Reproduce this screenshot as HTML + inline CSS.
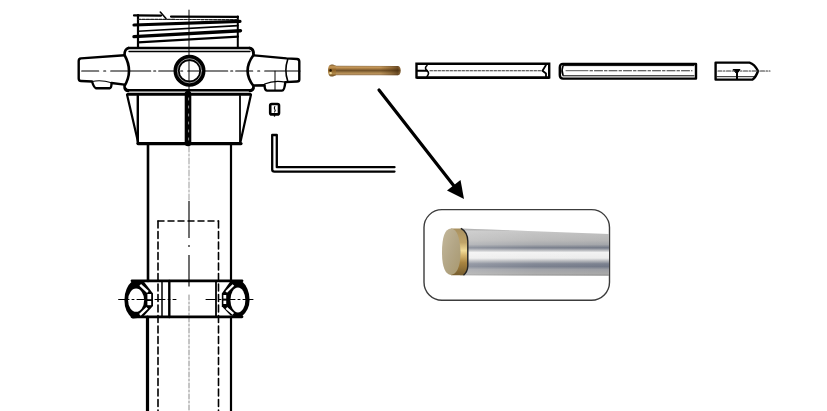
<!DOCTYPE html>
<html><head><meta charset="utf-8">
<style>
html,body{margin:0;padding:0;background:#fff;width:827px;height:411px;overflow:hidden;font-family:"Liberation Sans",sans-serif;}
svg{display:block;position:absolute;left:0;top:0;}
</style></head><body>
<svg width="827" height="411" viewBox="0 0 827 411">
<defs>
  <linearGradient id="steel" x1="0" y1="0" x2="0" y2="1">
    <stop offset="0" stop-color="#9a9a9a"/>
    <stop offset="0.12" stop-color="#c4c4c4"/>
    <stop offset="0.30" stop-color="#b8bac0"/>
    <stop offset="0.40" stop-color="#7d838e"/>
    <stop offset="0.52" stop-color="#f4f4f4"/>
    <stop offset="0.62" stop-color="#d8d8d8"/>
    <stop offset="0.75" stop-color="#b0b2b8"/>
    <stop offset="0.84" stop-color="#6a707c"/>
    <stop offset="0.93" stop-color="#a8a8a8"/>
    <stop offset="1" stop-color="#8a8a8a"/>
  </linearGradient>
  <linearGradient id="brass" x1="0" y1="0" x2="0" y2="1">
    <stop offset="0" stop-color="#7a5a20"/>
    <stop offset="0.3" stop-color="#c8a060"/>
    <stop offset="0.5" stop-color="#a07830"/>
    <stop offset="0.8" stop-color="#b89050"/>
    <stop offset="1" stop-color="#6a4a18"/>
  </linearGradient>
</defs>
<g fill="none" stroke="#000" stroke-linecap="round" stroke-linejoin="round">
  <!-- centerline of post -->
  <path d="M189 10 L189 95" stroke-width="1.2" stroke="#333"/>
  <path d="M189 146 L189 201" stroke-width="1" stroke="#999" stroke-dasharray="6 2 2 2"/>
  <path d="M189 201 L189 238 M189 245 L189 247 M189 255 L189 286.5" stroke-width="1.3" stroke="#222" stroke-linecap="butt"/>
  <path d="M189 295 L189 411" stroke-width="1" stroke="#8a8a8a" stroke-dasharray="5 2 2 2"/>

  <!-- threads -->
  <path d="M134 15.4 L161 15.6" stroke-width="2.2"/>
  <path d="M160.3 12 L166 18.6" stroke-width="1.6"/>
  <path d="M171 16.6 L238 16.8" stroke-width="2.2"/>
  <line x1="138" y1="15" x2="138" y2="48" stroke-width="2.2"/>
  <line x1="237.8" y1="16.5" x2="237.8" y2="47.5" stroke-width="2"/>
  <line x1="138" y1="19.4" x2="238" y2="19.6" stroke-width="1.2" stroke="#222" stroke-dasharray="3 1.2"/>
  <line x1="134" y1="25" x2="240" y2="21.4" stroke-width="3.2"/>
  <line x1="138" y1="31.3" x2="238" y2="25.6" stroke-width="1.6"/>
  <line x1="134" y1="36.6" x2="240.5" y2="30.7" stroke-width="3.4"/>
  <line x1="138" y1="42.4" x2="238" y2="36.6" stroke-width="2.2"/>

  <!-- body -->
  <path d="M128.5 48 L250 48 Q253.5 48.5 253.5 53" stroke-width="2.6"/>
  <line x1="129" y1="51.5" x2="250" y2="51.5" stroke-width="1.4"/>
  <path d="M125 88 Q126 90.3 129 90.3 L250 90.3 Q253 90.3 253.5 88" stroke-width="2.5"/>
  
  <path d="M128.5 48 Q124.5 49 124.5 55 Q133.5 71 124.5 86 Q124.5 90.5 128 91" stroke-width="2.6"/>
  <path d="M249.5 48 Q253.5 49 253.5 55 Q241.7 71 253.5 86 Q253.5 90.5 250 91" stroke-width="2.6"/>

  <!-- left arm -->
  <path d="M124.5 55.3 L81 58.4 Q78.7 58.6 78.7 61 L78.7 78.5 Q78.7 81 81 81 L92 81.5 Q94 87.8 96 88.2 L109.7 88.2 Q111.5 88 111.5 83 L124.5 84.6" stroke-width="2.4"/>
  <path d="M92 81.5 Q101 79.5 111.5 82.7" stroke-width="1.2"/>
  <!-- right arm -->
  <path d="M253.5 55.3 L286.5 58.4 L297 59 Q299.3 59.2 299.3 61.5 L299.3 79.5 Q299.3 81.5 297 81.5 L285.3 82.1 Q284.5 90.6 282 90.6 L267 90.6 Q264.6 90.4 264.6 85.3 L253.5 85.5" stroke-width="2.4"/>
  <path d="M287.7 59.6 Q284 70.5 287.7 81" stroke-width="1.6"/>
  <path d="M264.6 84 Q274 80 285.3 82.1" stroke-width="1.2"/>
  <line x1="275" y1="71.2" x2="275" y2="90" stroke-width="1"/>
  <!-- centerline horizontal -->
  <line x1="81.7" y1="71" x2="300" y2="71" stroke-width="1.1" stroke-dasharray="17 5 2 5 40 3 2 3"/>

  <!-- hole -->
  <circle cx="189.5" cy="70.8" r="12.9" stroke-width="6.2"/>
  <circle cx="189.5" cy="70.8" r="12.1" stroke-width="0.8" stroke="#bbb"/>

  <!-- lower nut -->
  <line x1="127" y1="94.5" x2="138.5" y2="144" stroke-width="2.2"/>
  <line x1="251" y1="94.5" x2="240" y2="144" stroke-width="2.2"/>
  <line x1="128" y1="94.3" x2="250" y2="94.3" stroke-width="3"/>
  <line x1="137.8" y1="96" x2="137.8" y2="143" stroke-width="2.4"/>
  <line x1="240" y1="96" x2="240" y2="143" stroke-width="1.8"/>
  <line x1="188" y1="94" x2="188" y2="143" stroke-width="6.6"/>
  <line x1="188.6" y1="98" x2="188.6" y2="140" stroke="#fff" stroke-width="0.8" stroke-dasharray="2 6" opacity="0.7"/>
  <line x1="138" y1="143.6" x2="241" y2="143.6" stroke-width="3.2"/>

  <!-- tube -->
  <line x1="148" y1="144" x2="148" y2="281" stroke-width="2.6"/>
  <line x1="231" y1="144" x2="231" y2="281" stroke-width="2.2"/>
  <line x1="147.5" y1="317" x2="147.5" y2="411" stroke-width="3.2"/>
  <line x1="231" y1="317" x2="231" y2="411" stroke-width="2.2"/>
  <!-- dashed inner -->
  <line x1="158" y1="221" x2="218.5" y2="221" stroke-width="1.5" stroke-dasharray="6 4"/>
  <line x1="158" y1="221" x2="158" y2="411" stroke-width="1.6" stroke-dasharray="7 3.5"/>
  <line x1="218.5" y1="221" x2="218.5" y2="411" stroke-width="1.6" stroke-dasharray="7 3.5"/>

  <!-- collar -->
  <line x1="132" y1="280.8" x2="242" y2="280.8" stroke-width="2.8"/>
  <line x1="132" y1="316.8" x2="242" y2="316.8" stroke-width="2.8"/>
  <line x1="162" y1="281" x2="162" y2="317" stroke-width="1.5"/>
  <line x1="169.3" y1="281" x2="169.3" y2="317" stroke-width="2.4"/>
  <line x1="216" y1="281" x2="216" y2="317" stroke-width="1.8"/>
  <line x1="119" y1="299.5" x2="176" y2="299.5" stroke-width="1" stroke-dasharray="10 3 2 3"/>
  <line x1="206" y1="299.5" x2="255" y2="299.5" stroke-width="1" stroke-dasharray="10 3 2 3"/>
  <!-- left nut -->
  <path d="M132.7 280.5 L143.4 281 L153 293.6 L153 306 L142.4 317.5 L132.7 318.5 Q124.4 312 124.4 300 Q124.4 288 132.7 280.5 Z" fill="#000" stroke="none"/>
  <ellipse cx="136.1" cy="300.2" rx="8" ry="11.6" fill="#fff" stroke="none"/>
  <path d="M140.2 284.8 L147.9 292 M139.9 314.8 L147.2 307.8" stroke="#fff" stroke-width="2.4" stroke-linecap="butt"/>
  <rect x="147.4" y="294" width="3.8" height="5.2" fill="#fff" stroke="none"/>
  <rect x="147.4" y="301" width="3.8" height="4.2" fill="#fff" stroke="none"/>
  <line x1="119" y1="299.5" x2="150" y2="299.5" stroke-width="1" stroke-dasharray="10 3 2 3"/>
  <!-- right nut -->
  <path d="M241.3 280.5 L230.6 281 L221.8 293.6 L221.8 306.3 L230.6 315.5 L241.3 317 Q249.6 310 249.6 300 Q249.6 288 241.3 280.5 Z" fill="#000" stroke="none"/>
  <ellipse cx="237.9" cy="300" rx="7.5" ry="12.4" fill="#fff" stroke="none"/>
  <path d="M233.4 285 L226.2 292 M226.4 308 L233.3 313.8" stroke="#fff" stroke-width="2.4" stroke-linecap="butt"/>
  <rect x="223.4" y="295" width="2.8" height="3.6" fill="#fff" stroke="none"/>
  <rect x="223.4" y="300.6" width="2.8" height="3.4" fill="#fff" stroke="none"/>
  <line x1="225" y1="299.5" x2="255" y2="299.5" stroke-width="1" stroke-dasharray="10 3 2 3"/>
  <line x1="119" y1="299.5" x2="124" y2="299.5" stroke-width="1"/>

<!-- set screw -->
  <rect x="270.2" y="104" width="8.8" height="10.4" rx="1.5" stroke-width="2.6"/>
  <path d="M274.8 106.5 Q273.8 108 274.8 109.3 Q275.8 110.5 274.6 112" stroke-width="1.1"/>
  <line x1="274.5" y1="114.5" x2="274.5" y2="116" stroke-width="1.5"/>
  <!-- hex key -->
  <path d="M394.5 167.2 L276.8 167.2 L276.8 135 L272.2 135 L272.2 169.5 Q272.2 171.6 274.5 171.6 L394.5 171.6" stroke-width="2.3"/>

  <!-- rod 1 -->
  <path d="M416.5 63.8 L549.2 63.8 L549.2 77.4 L416.5 77.4 Z" stroke-width="2.4" stroke-linejoin="miter"/>
  <line x1="417" y1="78.2" x2="549" y2="78.2" stroke-width="1.6"/>
  
  <line x1="417" y1="70.7" x2="427" y2="70.7" stroke-width="2"/>
  <path d="M427 65.5 Q424 68 427 70.7 Q430 73 427 76.5" stroke-width="1.6"/>
  <line x1="430" y1="70.8" x2="543" y2="70.8" stroke-width="1.1" stroke="#333" stroke-dasharray="2.5 1.5"/>
  <path d="M546 65 L542.5 70.7 L546 73.5 L546 76.5" stroke-width="1.8"/>
  <!-- rod 2 -->
  <path d="M563 63.9 L696 63.9 L696 78.6 L563 78.6 Q559.8 78.6 559.8 75 L559.8 67.5 Q559.8 63.9 563 63.9 Z" stroke-width="2.4"/>
  <line x1="563" y1="65.6" x2="694" y2="65.6" stroke-width="1"/>
  <line x1="563" y1="75.8" x2="694" y2="75.8" stroke-width="1"/>
  <path d="M563 66 Q561 70.5 563 75" stroke-width="1.6"/>
  <line x1="566" y1="70.7" x2="588" y2="70.7" stroke-width="1" stroke="#555"/>
  <line x1="590" y1="70.7" x2="692" y2="70.7" stroke-width="1.1" stroke="#333" stroke-dasharray="2.5 2 8 2"/>
  <!-- rod 3 bullet -->
  <path d="M715.6 62.6 L749.5 62.6 Q754.5 64 758 71 Q756 77 752.5 79.6 L715.6 79.6 Z" stroke-width="2.4"/>
  <line x1="717" y1="76.7" x2="754" y2="76.7" stroke-width="0.9"/>
  <line x1="718" y1="71" x2="770" y2="71" stroke-width="1.1" stroke="#333" stroke-dasharray="4 1.5 1.5 1.5"/>
  <line x1="737" y1="71" x2="737" y2="79" stroke-width="2"/>
  <path d="M733.5 69.5 L740 69.5 L737 73.5 Z" fill="#000" stroke-width="1"/>
</g>

<!-- brass pin -->
<defs>
  <linearGradient id="pinG" gradientUnits="userSpaceOnUse" x1="0" y1="65.7" x2="0" y2="75.2">
    <stop offset="0" stop-color="#8a7050"/>
    <stop offset="0.15" stop-color="#c99c5c"/>
    <stop offset="0.31" stop-color="#a87c44"/>
    <stop offset="0.5" stop-color="#74542a"/>
    <stop offset="0.65" stop-color="#927040"/>
    <stop offset="0.79" stop-color="#bc9458"/>
    <stop offset="1" stop-color="#9a7a58"/>
  </linearGradient>
  <linearGradient id="pinE" gradientUnits="userSpaceOnUse" x1="380" y1="0" x2="401" y2="0">
    <stop offset="0" stop-color="#4a2c08" stop-opacity="0"/>
    <stop offset="0.5" stop-color="#4a2c08" stop-opacity="0.35"/>
    <stop offset="0.85" stop-color="#3a2004" stop-opacity="0.6"/>
    <stop offset="1" stop-color="#6a4a20" stop-opacity="0.4"/>
  </linearGradient>
  <linearGradient id="pinH" gradientUnits="userSpaceOnUse" x1="0" y1="64.5" x2="0" y2="76.5">
    <stop offset="0" stop-color="#7a5a30"/>
    <stop offset="0.2" stop-color="#c89a58"/>
    <stop offset="0.45" stop-color="#8a5e24"/>
    <stop offset="0.75" stop-color="#b08848"/>
    <stop offset="1" stop-color="#6a4a20"/>
  </linearGradient>
</defs>
<path d="M334 65.7 L398 66 Q400.6 66.3 400.6 70.6 Q400.6 75 398 75.3 L334 75.2 Z" fill="url(#pinG)"/>
<path d="M380 65.9 L398 66 Q400.6 66.3 400.6 70.6 Q400.6 75 398 75.3 L380 75.3 Z" fill="url(#pinE)"/>
<path d="M331.5 64.5 L333 64.5 Q335 65.5 336 65.8 L336 75.2 Q335 75.5 333 76.5 L331.5 76.5 Q328 76.5 328 70.5 Q328 64.5 331.5 64.5 Z" fill="url(#pinH)"/>
<ellipse cx="330.6" cy="70.4" rx="1.2" ry="1.3" fill="#281800"/>
<ellipse cx="330.6" cy="73.1" rx="1.3" ry="1.2" fill="#f0dc9c"/>
<!-- arrow -->
<line x1="379" y1="90" x2="454" y2="186" stroke="#000" stroke-width="3.2" stroke-linecap="round"/>
<polygon points="464,199 447,190.5 460.5,180" fill="#000"/>

<!-- callout box -->
<defs>
  <linearGradient id="steelU" gradientUnits="userSpaceOnUse" x1="0" y1="229" x2="0" y2="276">
    <stop offset="0" stop-color="#9a9a9a"/>
    <stop offset="0.05" stop-color="#c2c2c2"/>
    <stop offset="0.24" stop-color="#b6b6b6"/>
    <stop offset="0.33" stop-color="#a4a6aa"/>
    <stop offset="0.40" stop-color="#727886"/>
    <stop offset="0.455" stop-color="#b8babe"/>
    <stop offset="0.50" stop-color="#f2f2f2"/>
    <stop offset="0.62" stop-color="#ececec"/>
    <stop offset="0.68" stop-color="#b4b6ba"/>
    <stop offset="0.74" stop-color="#7c8290"/>
    <stop offset="0.80" stop-color="#737988"/>
    <stop offset="0.86" stop-color="#9c9ea4"/>
    <stop offset="0.95" stop-color="#a8a8a8"/>
    <stop offset="1" stop-color="#8c8c8c"/>
  </linearGradient>
  <linearGradient id="steelL" gradientUnits="userSpaceOnUse" x1="462" y1="0" x2="609" y2="0">
    <stop offset="0" stop-color="#fff" stop-opacity="0.22"/>
    <stop offset="0.5" stop-color="#fff" stop-opacity="0.06"/>
    <stop offset="1" stop-color="#fff" stop-opacity="0"/>
  </linearGradient>
  <linearGradient id="capFace" x1="0" y1="0" x2="1" y2="1">
    <stop offset="0" stop-color="#c4b89c"/>
    <stop offset="0.5" stop-color="#b3a686"/>
    <stop offset="1" stop-color="#a8986e"/>
  </linearGradient>
  <linearGradient id="capRim" gradientUnits="userSpaceOnUse" x1="0" y1="229" x2="0" y2="274">
    <stop offset="0" stop-color="#a89060"/>
    <stop offset="0.3" stop-color="#c0a468"/>
    <stop offset="0.48" stop-color="#f2dc98"/>
    <stop offset="0.58" stop-color="#d8b870"/>
    <stop offset="0.75" stop-color="#a88440"/>
    <stop offset="1" stop-color="#7a6030"/>
  </linearGradient>
</defs>
<rect x="424" y="209.6" width="185.5" height="90.6" rx="18" ry="18" fill="#fff" stroke="#3c3c3c" stroke-width="1.4"/>
<path d="M460 228.4 L609 234 L609 275.8 L460 275.3 Z" fill="url(#steelU)"/>
<path d="M460 228.4 L609 234 L609 275.8 L460 275.3 Z" fill="url(#steelL)"/>
<path d="M451 228.4 L461 228.4 Q467.5 232 467.8 241 L467.8 266 Q467.5 272 463.5 275.2 L451 275.3 Z" fill="url(#capRim)"/>
<path d="M461 228.4 Q467.5 232 467.8 241 L467.8 266 Q467.5 272 463.5 275.2" fill="none" stroke="#222" stroke-width="1.4"/>
<path d="M451 228.4 Q459.5 229 460.5 251.5 Q460.5 273.5 451 275 Q442 274 442 252 Q442 229 451 228.4 Z" fill="url(#capFace)"/>
</svg>
</body></html>
